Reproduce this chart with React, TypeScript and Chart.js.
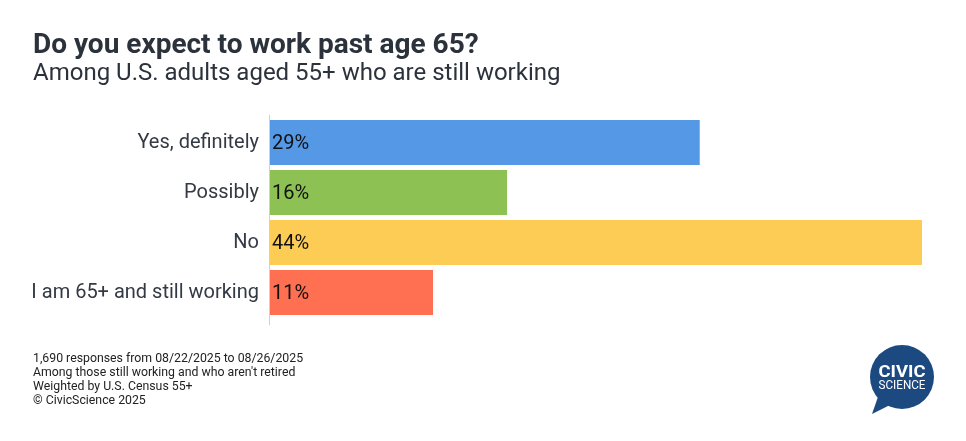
import React, { useEffect, useRef } from "react";
import { Chart, registerables } from "chart.js";

Chart.register(...registerables);

const categories = ["Yes, definitely", "Possibly", "No", "I am 65+ and still working"];
const values = [29, 16, 44, 11];
const barColors = ["#5599E6", "#8DC153", "#FDCC55", "#FF6F51"];
const titleText = "Do you expect to work past age 65?";
const subtitleText = "Among U.S. adults aged 55+ who are still working";
const footnotes = [
  "1,690 responses from 08/22/2025 to 08/26/2025",
  "Among those still working and who aren't retired",
  "Weighted by U.S. Census 55+",
  "© CivicScience 2025",
];

const FONT = "Roboto, 'Noto Sans', sans-serif";

const valueLabelPlugin = {
  id: "valueLabels",
  afterDatasetsDraw(chart: any) {
    const ctx = chart.ctx;
    const meta = chart.getDatasetMeta(0);
    ctx.save();
    ctx.font = `20px ${FONT}`;
    ctx.fillStyle = "#111111";
    ctx.textAlign = "left";
    ctx.textBaseline = "middle";
    meta.data.forEach((bar: any, i: number) => {
      ctx.fillText(`${values[i]}%`, bar.base + 2, bar.y + 1);
    });
    ctx.restore();
  },
};

const axisLinePlugin = {
  id: "axisLine",
  afterDatasetsDraw(chart: any) {
    const { ctx, chartArea } = chart;
    ctx.save();
    ctx.strokeStyle = "#D0D0D0";
    ctx.lineWidth = 1;
    ctx.beginPath();
    const x = Math.round(chartArea.left) - 0.5;
    ctx.moveTo(x, chartArea.top - 2.5);
    ctx.lineTo(x, chartArea.bottom + 7.5);
    ctx.stroke();
    ctx.restore();
  },
};

function ChartCanvas() {
  const ref = useRef<HTMLCanvasElement | null>(null);
  useEffect(() => {
    if (!ref.current) return;
    const chart = new Chart(ref.current, {
      type: "bar",
      data: {
        labels: categories,
        datasets: [
          {
            data: values,
            backgroundColor: barColors,
            borderWidth: 0,
            categoryPercentage: 1,
            barPercentage: 0.9,
          },
        ],
      },
      options: {
        indexAxis: "y",
        animation: false,
        responsive: false,
        maintainAspectRatio: false,
        layout: { padding: { top: 117.5, right: 44, bottom: 123.5, left: 0 } },
        plugins: { legend: { display: false }, tooltip: { enabled: false } },
        scales: {
          x: { display: false, min: 0, max: 44 },
          y: {
            afterFit(scale: any) {
              scale.width = 270;
            },
            grid: { display: false, drawTicks: false },
            border: { display: false },
            ticks: {
              padding: 11,
              color: "#333A44",
              font: { family: FONT, size: 20 },
            },
          },
        },
      },
      plugins: [valueLabelPlugin, axisLinePlugin],
    });
    return () => chart.destroy();
  }, []);
  return <canvas ref={ref} width={966} height={441} style={{ position: "absolute", left: 0, top: 0 }} />;
}

function Logo() {
  return (
    <svg width={80} height={86} viewBox="0 0 80 86" style={{ position: "absolute", left: 861, top: 336 }}>
      <path d="M11 78 L18 58 L31 68 Z" fill="#1C4A80" />
      <circle cx={41} cy={41} r={32} fill="#1C4A80" />
      <text x={41} y={41} textAnchor="middle" fill="#fff" fontFamily={FONT} fontWeight={700} fontSize={17} textLength={47} lengthAdjust="spacingAndGlyphs">
        CIVIC
      </text>
      <text x={41} y={53} textAnchor="middle" fill="#fff" fontFamily={FONT} fontSize={12.5} textLength={47} lengthAdjust="spacingAndGlyphs">
        SCIENCE
      </text>
    </svg>
  );
}

export default function App() {
  return (
    <div style={{ position: "fixed", left: 0, top: 0, width: 966, height: 441, background: "#fff", fontFamily: FONT }}>
      <ChartCanvas />
      <div style={{ position: "absolute", left: 33, top: 28, fontSize: 28, lineHeight: "32px", fontWeight: 700, color: "#2B323C", whiteSpace: "nowrap" }}>
        {titleText}
      </div>
      <div style={{ position: "absolute", left: 33, top: 58, fontSize: 24, lineHeight: "28px", color: "#2B323C", whiteSpace: "nowrap" }}>
        {subtitleText}
      </div>
      <div style={{ position: "absolute", left: 33, top: 351, fontSize: 12.3, lineHeight: "14px", color: "#222", whiteSpace: "nowrap" }}>
        {footnotes.map((f, i) => (
          <div key={i}>{f}</div>
        ))}
      </div>
      <Logo />
    </div>
  );
}
